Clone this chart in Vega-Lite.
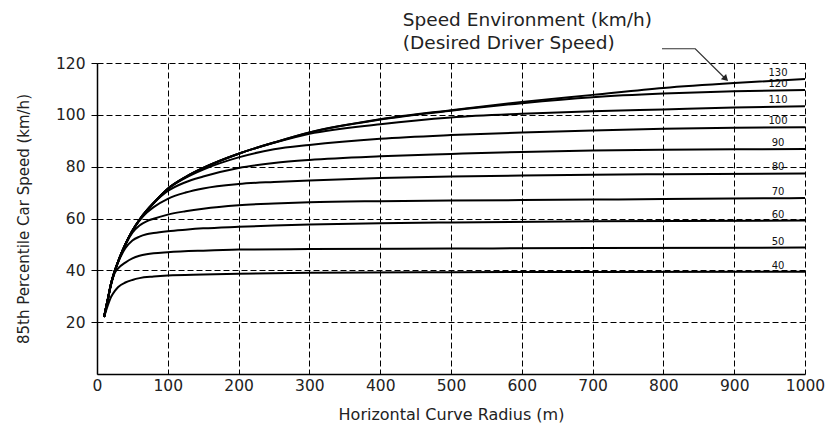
{
  "$schema": "https://vega.github.io/schema/vega-lite/v6.json",
  "width": 708,
  "height": 311,
  "autosize": {"type": "none"},
  "padding": {"left": 97, "top": 63, "right": 21, "bottom": 57},
  "background": "white",
  "config": {
    "view": {"stroke": null},
    "font": "DejaVu Sans",
    "axis": {
      "gridDash": [6, 3],
      "gridColor": "#000000",
      "gridOpacity": 1,
      "gridWidth": 1,
      "domainColor": "#000000",
      "domainWidth": 1.5,
      "labelColor": "#222222",
      "titleColor": "#222222",
      "labelFont": "DejaVu Sans",
      "titleFont": "DejaVu Sans",
      "labelFontSize": 15.5,
      "titleFontSize": 15,
      "titleFontWeight": "normal"
    }
  },
  "datasets": {
    "curves": [
      {"speed": 40, "R": 10, "V": 22}, {"speed": 40, "R": 15, "V": 26.3}, {"speed": 40, "R": 20, "V": 29.8}, {"speed": 40, "R": 25, "V": 32}, {"speed": 40, "R": 30, "V": 33.6}, {"speed": 40, "R": 40, "V": 35.3}, {"speed": 40, "R": 50, "V": 36.3}, {"speed": 40, "R": 60, "V": 37}, {"speed": 40, "R": 80, "V": 37.6}, {"speed": 40, "R": 100, "V": 38}, {"speed": 40, "R": 150, "V": 38.4}, {"speed": 40, "R": 200, "V": 38.7}, {"speed": 40, "R": 300, "V": 39.1}, {"speed": 40, "R": 500, "V": 39.3}, {"speed": 40, "R": 700, "V": 39.4}, {"speed": 40, "R": 1000, "V": 39.5},

      {"speed": 50, "R": 10, "V": 22}, {"speed": 50, "R": 15, "V": 28.3}, {"speed": 50, "R": 20, "V": 34.5}, {"speed": 50, "R": 25, "V": 39}, {"speed": 50, "R": 30, "V": 40.8}, {"speed": 50, "R": 40, "V": 43}, {"speed": 50, "R": 50, "V": 44.6}, {"speed": 50, "R": 60, "V": 45.6}, {"speed": 50, "R": 70, "V": 46.2}, {"speed": 50, "R": 80, "V": 46.6}, {"speed": 50, "R": 100, "V": 47}, {"speed": 50, "R": 150, "V": 47.6}, {"speed": 50, "R": 200, "V": 48}, {"speed": 50, "R": 300, "V": 48.2}, {"speed": 50, "R": 500, "V": 48.4}, {"speed": 50, "R": 700, "V": 48.6}, {"speed": 50, "R": 1000, "V": 48.8},

      {"speed": 60, "R": 10, "V": 22}, {"speed": 60, "R": 15, "V": 28.5}, {"speed": 60, "R": 20, "V": 35}, {"speed": 60, "R": 25, "V": 39.6}, {"speed": 60, "R": 30, "V": 43.2}, {"speed": 60, "R": 40, "V": 48.5}, {"speed": 60, "R": 50, "V": 51.5}, {"speed": 60, "R": 60, "V": 53}, {"speed": 60, "R": 70, "V": 53.9}, {"speed": 60, "R": 80, "V": 54.4}, {"speed": 60, "R": 100, "V": 55.1}, {"speed": 60, "R": 125, "V": 55.7}, {"speed": 60, "R": 150, "V": 56.2}, {"speed": 60, "R": 200, "V": 56.8}, {"speed": 60, "R": 250, "V": 57.3}, {"speed": 60, "R": 300, "V": 57.7}, {"speed": 60, "R": 400, "V": 58.2}, {"speed": 60, "R": 500, "V": 58.5}, {"speed": 60, "R": 700, "V": 58.9}, {"speed": 60, "R": 1000, "V": 59.2},

      {"speed": 70, "R": 10, "V": 22}, {"speed": 70, "R": 15, "V": 28.5}, {"speed": 70, "R": 20, "V": 35}, {"speed": 70, "R": 25, "V": 39.7}, {"speed": 70, "R": 30, "V": 43.5}, {"speed": 70, "R": 40, "V": 49.8}, {"speed": 70, "R": 50, "V": 54.5}, {"speed": 70, "R": 60, "V": 57.3}, {"speed": 70, "R": 70, "V": 58.9}, {"speed": 70, "R": 80, "V": 59.9}, {"speed": 70, "R": 100, "V": 61.5}, {"speed": 70, "R": 125, "V": 62.8}, {"speed": 70, "R": 150, "V": 63.8}, {"speed": 70, "R": 200, "V": 65.1}, {"speed": 70, "R": 250, "V": 65.8}, {"speed": 70, "R": 300, "V": 66.3}, {"speed": 70, "R": 400, "V": 66.7}, {"speed": 70, "R": 500, "V": 66.9}, {"speed": 70, "R": 600, "V": 67.1}, {"speed": 70, "R": 700, "V": 67.3}, {"speed": 70, "R": 800, "V": 67.5}, {"speed": 70, "R": 1000, "V": 67.9},

      {"speed": 80, "R": 10, "V": 22}, {"speed": 80, "R": 15, "V": 28.5}, {"speed": 80, "R": 20, "V": 35}, {"speed": 80, "R": 25, "V": 39.7}, {"speed": 80, "R": 30, "V": 43.5}, {"speed": 80, "R": 40, "V": 50}, {"speed": 80, "R": 50, "V": 55.3}, {"speed": 80, "R": 60, "V": 59.2}, {"speed": 80, "R": 70, "V": 62.2}, {"speed": 80, "R": 80, "V": 64.4}, {"speed": 80, "R": 100, "V": 67.6}, {"speed": 80, "R": 125, "V": 70}, {"speed": 80, "R": 150, "V": 71.6}, {"speed": 80, "R": 200, "V": 73.3}, {"speed": 80, "R": 250, "V": 74.1}, {"speed": 80, "R": 300, "V": 74.7}, {"speed": 80, "R": 400, "V": 75.6}, {"speed": 80, "R": 500, "V": 76.2}, {"speed": 80, "R": 600, "V": 76.6}, {"speed": 80, "R": 700, "V": 76.9}, {"speed": 80, "R": 800, "V": 77.1}, {"speed": 80, "R": 1000, "V": 77.4},

      {"speed": 90, "R": 10, "V": 22}, {"speed": 90, "R": 15, "V": 28.5}, {"speed": 90, "R": 20, "V": 35}, {"speed": 90, "R": 25, "V": 39.7}, {"speed": 90, "R": 30, "V": 43.5}, {"speed": 90, "R": 40, "V": 50}, {"speed": 90, "R": 50, "V": 55.3}, {"speed": 90, "R": 60, "V": 59.5}, {"speed": 90, "R": 70, "V": 63}, {"speed": 90, "R": 80, "V": 65.9}, {"speed": 90, "R": 100, "V": 70.6}, {"speed": 90, "R": 125, "V": 74}, {"speed": 90, "R": 150, "V": 76.2}, {"speed": 90, "R": 200, "V": 79.5}, {"speed": 90, "R": 250, "V": 81.4}, {"speed": 90, "R": 300, "V": 82.6}, {"speed": 90, "R": 400, "V": 84}, {"speed": 90, "R": 500, "V": 84.9}, {"speed": 90, "R": 600, "V": 85.7}, {"speed": 90, "R": 700, "V": 86.2}, {"speed": 90, "R": 800, "V": 86.5}, {"speed": 90, "R": 900, "V": 86.7}, {"speed": 90, "R": 1000, "V": 86.8},

      {"speed": 100, "R": 10, "V": 22}, {"speed": 100, "R": 15, "V": 28.5}, {"speed": 100, "R": 20, "V": 35}, {"speed": 100, "R": 25, "V": 39.7}, {"speed": 100, "R": 30, "V": 43.5}, {"speed": 100, "R": 40, "V": 50}, {"speed": 100, "R": 50, "V": 55.3}, {"speed": 100, "R": 60, "V": 59.5}, {"speed": 100, "R": 70, "V": 63}, {"speed": 100, "R": 80, "V": 66}, {"speed": 100, "R": 100, "V": 71.4}, {"speed": 100, "R": 125, "V": 75.7}, {"speed": 100, "R": 150, "V": 78.9}, {"speed": 100, "R": 200, "V": 83.6}, {"speed": 100, "R": 250, "V": 86.7}, {"speed": 100, "R": 300, "V": 88.4}, {"speed": 100, "R": 400, "V": 90.8}, {"speed": 100, "R": 500, "V": 92.2}, {"speed": 100, "R": 600, "V": 93.2}, {"speed": 100, "R": 700, "V": 94}, {"speed": 100, "R": 800, "V": 94.6}, {"speed": 100, "R": 900, "V": 95}, {"speed": 100, "R": 1000, "V": 95.2},

      {"speed": 110, "R": 10, "V": 22}, {"speed": 110, "R": 15, "V": 28.5}, {"speed": 110, "R": 20, "V": 35}, {"speed": 110, "R": 25, "V": 39.7}, {"speed": 110, "R": 30, "V": 43.5}, {"speed": 110, "R": 40, "V": 50}, {"speed": 110, "R": 50, "V": 55.3}, {"speed": 110, "R": 60, "V": 59.5}, {"speed": 110, "R": 70, "V": 63}, {"speed": 110, "R": 80, "V": 66}, {"speed": 110, "R": 100, "V": 71.5}, {"speed": 110, "R": 125, "V": 76}, {"speed": 110, "R": 150, "V": 79.5}, {"speed": 110, "R": 200, "V": 85}, {"speed": 110, "R": 250, "V": 89.2}, {"speed": 110, "R": 300, "V": 92.7}, {"speed": 110, "R": 400, "V": 96.4}, {"speed": 110, "R": 500, "V": 99}, {"speed": 110, "R": 600, "V": 100.4}, {"speed": 110, "R": 700, "V": 101.4}, {"speed": 110, "R": 800, "V": 102.1}, {"speed": 110, "R": 900, "V": 102.8}, {"speed": 110, "R": 1000, "V": 103.3},

      {"speed": 120, "R": 10, "V": 22}, {"speed": 120, "R": 15, "V": 28.5}, {"speed": 120, "R": 20, "V": 35}, {"speed": 120, "R": 25, "V": 39.7}, {"speed": 120, "R": 30, "V": 43.5}, {"speed": 120, "R": 40, "V": 50}, {"speed": 120, "R": 50, "V": 55.3}, {"speed": 120, "R": 60, "V": 59.5}, {"speed": 120, "R": 70, "V": 63}, {"speed": 120, "R": 80, "V": 66}, {"speed": 120, "R": 100, "V": 71.5}, {"speed": 120, "R": 125, "V": 76}, {"speed": 120, "R": 150, "V": 79.5}, {"speed": 120, "R": 200, "V": 85}, {"speed": 120, "R": 250, "V": 89.3}, {"speed": 120, "R": 300, "V": 93.2}, {"speed": 120, "R": 400, "V": 98.2}, {"speed": 120, "R": 500, "V": 101.6}, {"speed": 120, "R": 600, "V": 104.5}, {"speed": 120, "R": 700, "V": 106.8}, {"speed": 120, "R": 800, "V": 108.2}, {"speed": 120, "R": 900, "V": 109.1}, {"speed": 120, "R": 1000, "V": 109.6},

      {"speed": 130, "R": 10, "V": 22}, {"speed": 130, "R": 15, "V": 28.5}, {"speed": 130, "R": 20, "V": 35}, {"speed": 130, "R": 25, "V": 39.7}, {"speed": 130, "R": 30, "V": 43.5}, {"speed": 130, "R": 40, "V": 50}, {"speed": 130, "R": 50, "V": 55.3}, {"speed": 130, "R": 60, "V": 59.5}, {"speed": 130, "R": 70, "V": 63}, {"speed": 130, "R": 80, "V": 66}, {"speed": 130, "R": 100, "V": 71.5}, {"speed": 130, "R": 125, "V": 76}, {"speed": 130, "R": 150, "V": 79.5}, {"speed": 130, "R": 200, "V": 85}, {"speed": 130, "R": 250, "V": 89.3}, {"speed": 130, "R": 300, "V": 93.2}, {"speed": 130, "R": 400, "V": 98.3}, {"speed": 130, "R": 500, "V": 101.8}, {"speed": 130, "R": 600, "V": 105}, {"speed": 130, "R": 700, "V": 107.7}, {"speed": 130, "R": 800, "V": 110.4}, {"speed": 130, "R": 900, "V": 112.3}, {"speed": 130, "R": 1000, "V": 113.8}
    ],
    "notes": [
      {"t": "Speed Environment (km/h)", "R": 432, "V": 136.6},
      {"t": "(Desired Driver Speed)", "R": 432, "V": 127.9}
    ],
    "arrow": [
      {"o": 1, "R": 798, "V": 125.5},
      {"o": 2, "R": 845, "V": 125.5},
      {"o": 3, "R": 886, "V": 114.4}
    ],
    "head": [
      {"R": 887, "V": 114.2}
    ]
  },
  "layer": [
    {
      "data": {"name": "curves"},
      "mark": {"type": "line", "interpolate": "monotone", "stroke": "#000000", "strokeWidth": 2},
      "encoding": {
        "x": {
          "field": "R", "type": "quantitative",
          "scale": {"domain": [0, 1000], "nice": false},
          "axis": {
            "title": "Horizontal Curve Radius (m)",
            "titleFontSize": 16,
            "format": "d",
            "values": [0, 100, 200, 300, 400, 500, 600, 700, 800, 900, 1000],
            "tickSize": 0, "labelPadding": 4, "titlePadding": 13,
            "grid": true, "labelFlush": false
          }
        },
        "y": {
          "field": "V", "type": "quantitative",
          "scale": {"domain": [0, 120], "nice": false},
          "axis": {
            "title": "85th Percentile Car Speed (km/h)",
            "format": "d",
            "values": [20, 40, 60, 80, 100, 120],
            "tickSize": 6, "tickColor": "#000000", "tickDash": [6, 3],
            "labelPadding": 6, "titlePadding": 24,
            "grid": true
          }
        },
        "detail": {"field": "speed", "type": "nominal"}
      }
    },
    {
      "data": {"name": "curves"},
      "transform": [{"filter": "datum.R == 1000"}],
      "mark": {"type": "text", "fontSize": 10, "dx": -27, "dy": -1, "baseline": "bottom", "align": "center", "color": "#111111", "font": "DejaVu Sans"},
      "encoding": {
        "x": {"field": "R", "type": "quantitative"},
        "y": {"field": "V", "type": "quantitative"},
        "text": {"field": "speed", "type": "nominal"}
      }
    },
    {
      "data": {"name": "notes"},
      "mark": {"type": "text", "fontSize": 18.5, "align": "left", "baseline": "middle", "color": "#222222", "font": "DejaVu Sans"},
      "encoding": {
        "x": {"field": "R", "type": "quantitative"},
        "y": {"field": "V", "type": "quantitative"},
        "text": {"field": "t", "type": "nominal"}
      }
    },
    {
      "data": {"name": "arrow"},
      "mark": {"type": "line", "stroke": "#333333", "strokeWidth": 1.2},
      "encoding": {
        "x": {"field": "R", "type": "quantitative"},
        "y": {"field": "V", "type": "quantitative"},
        "order": {"field": "o", "type": "quantitative"}
      }
    },
    {
      "data": {"name": "head"},
      "mark": {"type": "point", "shape": "triangle", "filled": true, "color": "#222222", "size": 55, "angle": 135, "opacity": 1},
      "encoding": {
        "x": {"field": "R", "type": "quantitative"},
        "y": {"field": "V", "type": "quantitative"}
      }
    }
  ]
}
